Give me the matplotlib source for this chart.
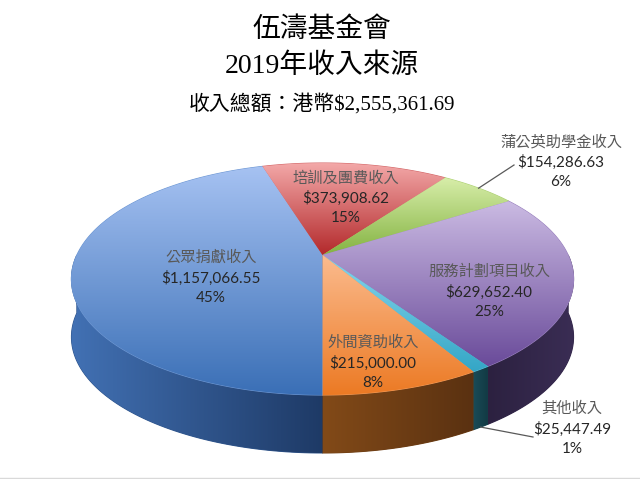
import numpy as np
import matplotlib
matplotlib.use("Agg")
import matplotlib.pyplot as plt
from matplotlib.patches import Polygon
from matplotlib.colors import to_rgb

# data (clockwise, starting at 6 o'clock)
names = ['公眾捐獻收入', '培訓及團費收入', '蒲公英助學金收入', '服務計劃項目收入', '其他收入', '外間資助收入']
values = [1157066.55, 373908.62, 154286.63, 629652.40, 25447.49, 215000.00]
top_light = ['#a6c2f2', '#f3a8a8', '#d8eeaa', '#cbbbe3', '#86d6ec', '#fbbb8e']
top_dark = ['#3a6fb6', '#b3292b', '#84b342', '#6a4b9a', '#34a6c6', '#ec7a24']
side_light = ['#4271b4', '#8a2020', '#5e8a2a', '#2c2140', '#1a4c58', '#824a18']
side_dark = ['#1e3a66', '#6a1818', '#4a6e20', '#3a2d54', '#123a44', '#5a3111']

title1 = '伍濤基金會'
title2 = '2019年收入來源'
subtitle = '收入總額：港幣$2,555,361.69'

# geometry of the projected pie (pixels)
cx, cy = 322.5, 255
rx, ry = 245.6, 111
k = 0.207
depth = 58
start = 180.0  # compass degrees

# label anchors (pixel centers)
label_pos = [(211, 278), (346, 198), (561, 162), (489, 292), (572, 429), (373, 363)]

fig = plt.figure(figsize=(6.4, 4.79), dpi=100)
ax = fig.add_axes([0, 0, 1, 1])


def proj(t, r=1.0):
    t = np.radians(t)
    u = r * np.sin(t)
    v = r * np.cos(t)
    w = 1 + k * v
    return cx + rx * u / w, cy - ry * v / w


def fill_grad(xs, ys, c1, c2, horizontal=False, z=1):
    c1, c2 = np.array(to_rgb(c1)), np.array(to_rgb(c2))
    mid = (c1 + c2) / 2
    # solid underlay so no white seams show between pieces
    ax.add_patch(Polygon(np.column_stack([xs, ys]), closed=True, facecolor=mid,
                         edgecolor=mid, lw=0.8, zorder=z - 0.5))
    poly = Polygon(np.column_stack([xs, ys]), closed=True, facecolor='none',
                   edgecolor='none')
    ax.add_patch(poly)
    x0, x1, y0, y1 = xs.min(), xs.max(), ys.min(), ys.max()
    t = np.linspace(0, 1, 256)[:, None]
    cols = c1 * (1 - t) + c2 * t
    img = cols[None, :, :] if horizontal else cols[:, None, :]
    im = ax.imshow(img, extent=(x0, x1, y1, y0), origin='upper', aspect='auto',
                   zorder=z, interpolation='bilinear')
    im.set_clip_path(poly)


total = sum(values)
fracs = [v / total for v in values]
angles = []
a = start
for f in fracs:
    angles.append((a, a + f * 360))
    a += f * 360

# side walls (front half: compass 90..270)
for i, (a0, a1) in enumerate(angles):
    for s0, s1 in [(a0, a1), (a0 - 360, a1 - 360)]:
        lo, hi = max(s0, 90), min(s1, 270)
        if hi <= lo:
            continue
        ts = np.linspace(lo, hi, 80)
        x, y = proj(ts)
        xs = np.concatenate([x, x[::-1]])
        ys = np.concatenate([y, y[::-1] + depth])
        fill_grad(xs, ys, side_light[i], side_dark[i], horizontal=True, z=1)

# top faces
for i, (a0, a1) in enumerate(angles):
    ts = np.linspace(a0, a1, 200)
    x, y = proj(ts)
    xs = np.concatenate([[cx], x])
    ys = np.concatenate([[cy], y])
    fill_grad(xs, ys, top_light[i], top_dark[i], z=3)

# labels
fam = ['Lato', 'Noto Sans CJK TC']
for i, (lx, ly) in enumerate(label_pos):
    lines = [names[i], f'${values[i]:,.2f}', f'{round(fracs[i] * 100)}%']
    for j, s in enumerate(lines):
        ax.text(lx, ly + (j - 1) * 20, s, ha='center', va='center', fontsize=11,
                color='#595959' if j == 0 else '#262626', family=fam,
                fontweight='light' if j == 0 else 'normal', zorder=6)

# leader lines for the two outside labels
gx, gy = proj(sum(angles[2]) / 2)
ax.plot([gx, 514], [gy, 165], color='#595959', lw=0.9, zorder=5)
ox, oy = proj(sum(angles[4]) / 2)
ax.plot([ox, 533], [oy + depth, 437], color='#595959', lw=0.9, zorder=5)

# titles
tfam = ['Liberation Serif', 'Noto Sans CJK TC']
ax.text(322, 30, title1, ha='center', va='center', fontsize=20, family=tfam,
        fontweight='light', color='#000000')
ax.text(322, 66, title2, ha='center', va='center', fontsize=20, family=tfam,
        fontweight='light', color='#000000')
ax.text(322, 104, subtitle, ha='center', va='center', fontsize=15, family=tfam,
        fontweight='light', color='#000000')

ax.axhline(477.5, color='#d9d9d9', lw=1)
ax.set_xlim(0, 640)
ax.set_ylim(479, 0)
ax.axis('off')
fig.savefig('out.png', dpi=100)
